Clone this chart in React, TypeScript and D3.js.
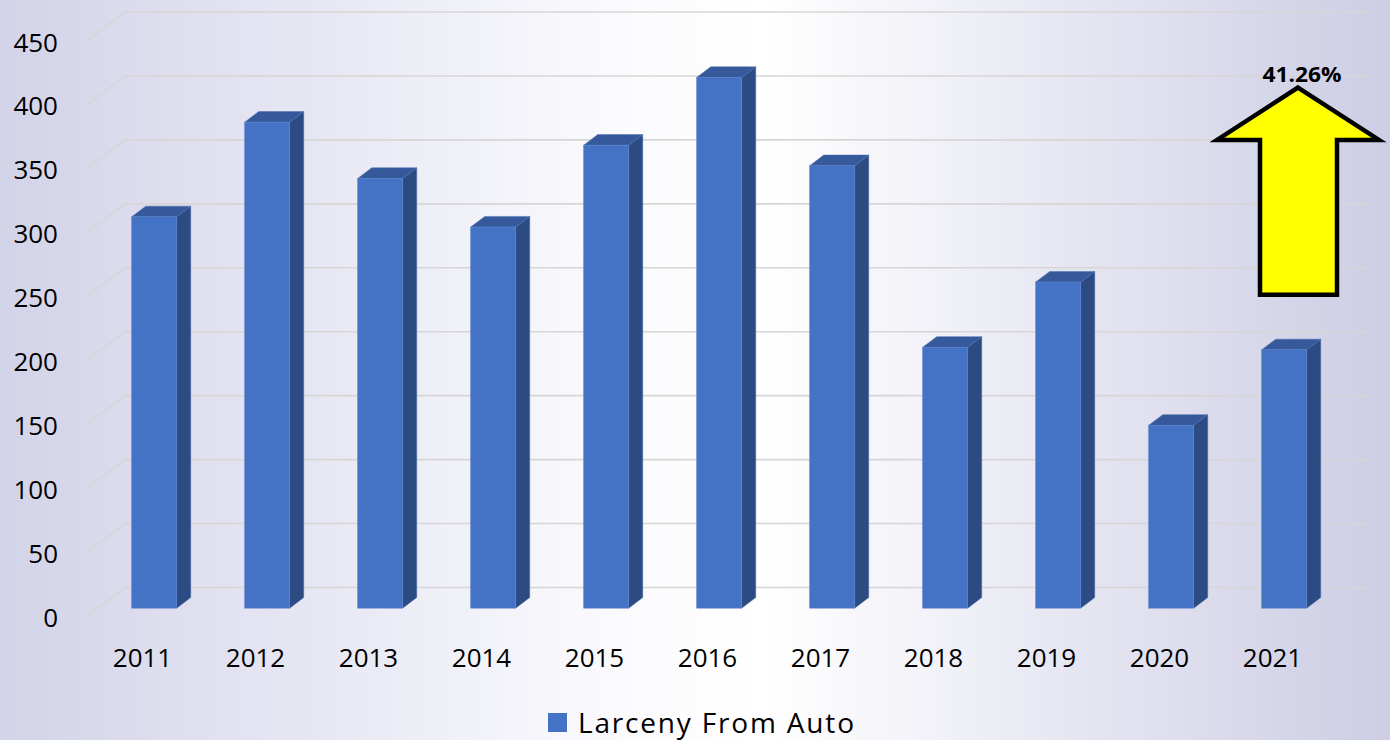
import React from "react";
import * as d3 from "d3";

const years = ["2011","2012","2013","2014","2015","2016","2017","2018","2019","2020","2021"];
const larceny = [306, 380, 336, 298, 362, 415, 346, 204, 255, 143, 202];
const yTicks = [0, 50, 100, 150, 200, 250, 300, 350, 400, 450];
const seriesName = "Larceny From Auto";
const changeLabel = "41.26%";

const W = 1390, H = 740;
const FONT = "'Open Sans', 'Noto Sans', sans-serif";

export default function App() {
  // oblique 3D projection: floor depth vector
  const DX = 39, DY = 29.5;
  const frontLeft = 86, frontRight = 1329;
  const y = d3.scaleLinear().domain([0, 450]).range([617, 41.5]);
  const x = d3.scaleBand().domain(years).range([frontLeft, frontRight]).paddingInner(0).paddingOuter(0);
  const barW = 45;
  const z0 = 0.3, z1 = 0.66;
  const proj = (px: number, v: number, z: number): [number, number] => [px + z * DX, y(v) - z * DY];

  const bars = years.map((yr, i) => {
    const v = larceny[i];
    const cx = (x(yr) as number) + x.bandwidth() / 2;
    const xl = cx - barW / 2, xr = cx + barW / 2;
    const [fx0, fyTop] = proj(xl, v, z0);
    const [fx1, fyBot] = proj(xr, 0, z0);
    const [bx0, byTop] = proj(xl, v, z1);
    const [bx1, byBot] = proj(xr, 0, z1);
    const top = [[fx0, fyTop], [fx1, fyTop], [bx1, byTop], [bx0, byTop]];
    const side = [[fx1, fyTop], [bx1, byTop], [bx1, byBot], [fx1, fyBot]];
    return { yr, fx0, fx1, fyTop, fyBot, top, side };
  });

  const pts = (a: number[][]) => a.map(p => p.join(",")).join(" ");

  // arrow annotation anchored to last category
  const last = years[years.length - 1];
  const ax = (x(last) as number) + x.bandwidth() / 2 + 25.5;
  const tipY = y(414);
  const wingY = y(373);
  const baseY = y(252);
  const arrow = [
    [ax, tipY], [ax + 81, wingY], [ax + 39, wingY], [ax + 39, baseY],
    [ax - 38, baseY], [ax - 38, wingY], [ax - 81, wingY]
  ];

  return (
    <svg width={W} height={H} style={{ position: "absolute", left: 0, top: 0 }} fontFamily={FONT}>
      <defs>
        <linearGradient id="bg" x1="0" y1="0" x2="1" y2="0">
          <stop offset="0%" stopColor="#d3d3e9" />
          <stop offset="45%" stopColor="#fbfbfe" />
          <stop offset="55%" stopColor="#ffffff" />
          <stop offset="100%" stopColor="#cdcde5" />
        </linearGradient>
      </defs>
      <rect x={0} y={0} width={W} height={H} fill="url(#bg)" />

      {yTicks.map(t => {
        const [x0, y0] = proj(frontLeft, t, 0);
        const [x1, y1] = proj(frontLeft, t, 1);
        const xEnd = frontRight + DX;
        return (
          <g key={t}>
            <polyline points={`${x0},${y0} ${x1},${y1} ${xEnd},${y1}`} fill="none" stroke="#d6d6d6" strokeWidth={1.6} />
            <text x={58} y={y0} textAnchor="end" dominantBaseline="central" fontSize={26} fill="#000">{t}</text>
          </g>
        );
      })}

      {bars.map(b => (
        <g key={b.yr}>
          <polygon points={pts(b.side)} fill="#2c4b82" stroke="#4a6fae" strokeWidth={0.5} />
          <polygon points={pts(b.top)} fill="#35599b" stroke="#4a6fae" strokeWidth={0.5} />
          <rect x={b.fx0} y={b.fyTop} width={b.fx1 - b.fx0} height={b.fyBot - b.fyTop} fill="#4472c4" stroke="#5b84cf" strokeWidth={0.6} />
        </g>
      ))}

      {years.map(yr => (
        <text key={yr} x={(x(yr) as number) + x.bandwidth() / 2} y={667} textAnchor="middle" fontSize={26} fill="#000">{yr}</text>
      ))}

      <polygon points={pts(arrow)} fill="#ffff00" stroke="#000" strokeWidth={4.5} strokeLinejoin="miter" />
      <text x={ax + 4} y={82} textAnchor="middle" fontSize={22} fontWeight="bold" fill="#000" textLength={79} lengthAdjust="spacingAndGlyphs">{changeLabel}</text>

      <rect x={548} y={713} width={19} height={19} fill="#4472c4" />
      <text x={578} y={733} fontSize={28} fill="#000" textLength={276} lengthAdjust="spacing">{seriesName}</text>
    </svg>
  );
}
